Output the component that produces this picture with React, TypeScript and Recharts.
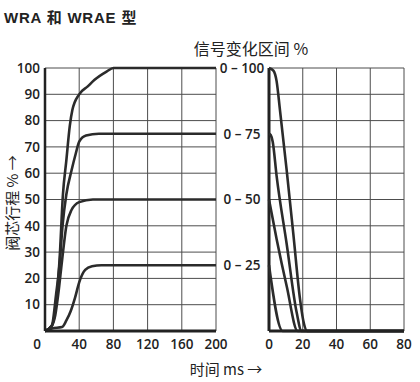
import {
  LineChart,
  Line,
  XAxis,
  YAxis,
  CartesianGrid,
  ReferenceLine,
  ReferenceDot,
} from "recharts";

// ── step response (0 → target), time in ms, stroke in % ──────────────────────
const riseT100 = [0, 8, 14, 17, 21, 25, 29, 32, 40, 50, 58, 72, 80, 200];
const riseV100 = [0, 2, 14, 27, 52, 65, 78, 84, 90, 93, 95.5, 98.6, 100, 100];
const riseT75 = [0, 8, 13, 17.5, 20.5, 25, 31, 36, 40, 48, 63, 200];
const riseV75 = [0, 2, 14, 27, 40, 52, 61, 67.5, 72, 74.3, 75, 75];
const riseT50 = [0, 8, 12, 15.5, 20, 25, 31, 40, 56, 200];
const riseV50 = [0, 2, 6, 14, 27, 40, 46, 49, 50, 50];
const riseT25 = [0, 8, 20, 25, 30, 35, 40, 47, 55, 66, 200];
const riseV25 = [0, 1, 1.5, 4, 7.5, 12.5, 18.5, 23.2, 24.6, 25, 25];

// ── step response (target → 0) ───────────────────────────────────────────────
const fallT100 = [0, 2.6, 4.5, 6.5, 10.5, 14.4, 18.4, 20.3, 22.7, 80];
const fallV100 = [100, 99, 95, 84, 61, 37, 12, 4, 0, 0];
const fallT75 = [0, 1, 2.2, 4.5, 10.5, 16.4, 19.3, 80];
const fallV75 = [75, 74.5, 72, 59, 33, 7, 0, 0];
const fallT50 = [0, 4.5, 10.5, 17, 80];
const fallV50 = [50, 35, 17, 0, 0];
const fallT25 = [0, 8.1, 80];
const fallV25 = [25, 0, 0];

const strokeTicks = [0, 10, 20, 30, 40, 50, 60, 70, 80, 90, 100];
const riseTicks = [0, 40, 80, 120, 160, 200];
const fallTicks = [0, 20, 40, 60, 80];
const signalRanges = [100, 75, 50, 25];

const toPoints = (t: number[], v: number[]) => t.map((x, i) => ({ t: x, v: v[i] }));

const riseSeries = [
  toPoints(riseT100, riseV100),
  toPoints(riseT75, riseV75),
  toPoints(riseT50, riseV50),
  toPoints(riseT25, riseV25),
];
const fallSeries = [
  toPoints(fallT100, fallV100),
  toPoints(fallT75, fallV75),
  toPoints(fallT50, fallV50),
  toPoints(fallT25, fallV25),
];

const INK = "#222";
const CURVE = "#2b2b2b";
const GRID = "#4d4d4d";
const tickFont = {
  fill: INK,
  fontSize: 13.5,
  fontWeight: 600,
  fontFamily: "'Open Sans', sans-serif",
};

function LeftXTick({ x, y, payload }: any) {
  // the shared origin "0" sits a bit left of the corner
  const dx = payload.value === 0 ? -8 : 0;
  return (
    <text x={x + dx} y={y} dy="0.71em" textAnchor="middle" {...tickFont}>
      {payload.value}
    </text>
  );
}

// "0 – n" range label, left of the start point of each falling curve
const rangeLabel = (value: number) => (p: any) => (
  <text x={p.cx - 27} y={p.cy} dy="0.36em" textAnchor="middle" {...tickFont}>
    {`0 – ${value}`}
  </text>
);

export default function App() {
  return (
    <div
      style={{
        position: "absolute",
        left: 0,
        top: 0,
        width: 420,
        height: 382,
        background: "#fff",
      }}
    >
      <div style={{ position: "absolute", left: 0, top: 0 }}>
        <LineChart
          width={230}
          height={382}
          margin={{ top: 68, right: 14, bottom: 21, left: 0 }}
        >
          <CartesianGrid stroke={GRID} strokeWidth={1} />
          <XAxis
            dataKey="t"
            type="number"
            domain={[0, 200]}
            ticks={riseTicks}
            height={30}
            tickLine={false}
            axisLine={{ stroke: INK, strokeWidth: 3 }}
            tick={<LeftXTick />}
          />
          <YAxis
            type="number"
            domain={[0, 100]}
            ticks={strokeTicks}
            width={45}
            tickLine={false}
            tickSize={3}
            tickMargin={2}
            axisLine={{ stroke: INK, strokeWidth: 2.5 }}
            tick={tickFont}
            tickFormatter={(v: number) => (v === 0 ? "" : String(v))}
          />
          {riseSeries.map((d, i) => (
            <Line
              key={i}
              data={d}
              dataKey="v"
              type="monotone"
              stroke={CURVE}
              strokeWidth={2.6}
              dot={false}
              isAnimationActive={false}
            />
          ))}
        </LineChart>
      </div>

      <div style={{ position: "absolute", left: 200, top: 0 }}>
        <LineChart
          width={220}
          height={382}
          margin={{ top: 68, right: 16, bottom: 21, left: 0 }}
        >
          <CartesianGrid stroke={GRID} strokeWidth={1} />
          <XAxis
            dataKey="t"
            type="number"
            domain={[0, 80]}
            ticks={fallTicks}
            height={30}
            tickLine={false}
            axisLine={{ stroke: INK, strokeWidth: 3 }}
            tick={tickFont}
          />
          {/* feeds the 10 % grid rows; zero width so it does not shift the spacer axis */}
          <YAxis
            yAxisId={0}
            type="number"
            domain={[0, 100]}
            ticks={strokeTicks}
            width={0}
            hide
          />
          {/* spacer axis: leaves room for the range labels */}
          <YAxis
            yAxisId="space"
            type="number"
            domain={[0, 100]}
            width={69}
            tick={false}
            tickLine={false}
            axisLine={false}
          />
          <ReferenceLine x={0} stroke={INK} strokeWidth={3} />
          {fallSeries.map((d, i) => (
            <Line
              key={i}
              yAxisId={0}
              data={d}
              dataKey="v"
              type="monotone"
              stroke={CURVE}
              strokeWidth={2.6}
              dot={false}
              isAnimationActive={false}
            />
          ))}
          {signalRanges.map((v) => (
            <ReferenceDot
              key={v}
              yAxisId={0}
              x={0}
              y={v}
              r={0}
              ifOverflow="visible"
              shape={rangeLabel(v)}
            />
          ))}
        </LineChart>
      </div>

      <svg
        width={420}
        height={382}
        style={{ position: "absolute", left: 0, top: 0, pointerEvents: "none" }}
      >
        <text
          x={4}
          y={23}
          fill={INK}
          fontSize={15}
          fontWeight={700}
          letterSpacing={0.8}
          fontFamily="'Liberation Sans', 'Noto Sans CJK SC', sans-serif"
        >
          WRA 和 WRAE 型
        </text>
        <text
          x={251}
          y={55}
          textAnchor="middle"
          fill={INK}
          fontSize={16}
          fontFamily="'Noto Sans CJK SC', sans-serif"
        >
          信号变化区间 %
        </text>
        <text
          x={0}
          y={0}
          transform="translate(18 203) rotate(-90)"
          textAnchor="middle"
          fill={INK}
          fontSize={15}
          fontFamily="'Noto Sans CJK SC', sans-serif"
        >
          阀芯行程 % →
        </text>
        <text
          x={226}
          y={375}
          textAnchor="middle"
          fill={INK}
          fontSize={15}
          fontFamily="'Noto Sans CJK SC', sans-serif"
        >
          时间 ms →
        </text>
      </svg>
    </div>
  );
}
